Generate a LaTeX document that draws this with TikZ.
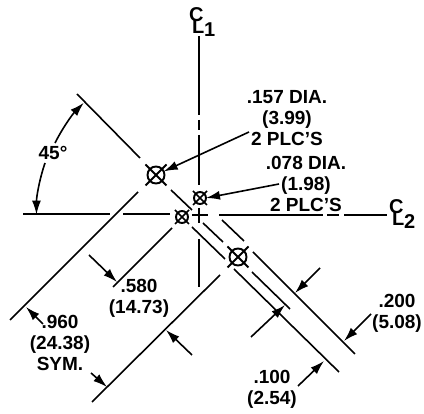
\documentclass[tikz,border=0pt]{standalone}
\usepackage{fontspec}
\setmainfont{Liberation Sans}
\usetikzlibrary{arrows.meta,shapes.misc}

\newcommand{\clsign}[1]{\rlap{C}\raisebox{-12pt}{\hspace{3pt}L\raisebox{-3pt}{#1}}}

\begin{document}
\begin{tikzpicture}[x=1pt,y=-1pt,line width=1.6pt,>={Latex[length=14pt,width=9pt]},
	every node/.style={inner sep=0pt,outer sep=0pt},
	dimtext/.style={font=\bfseries\fontsize{19}{21}\selectfont,align=center},
	cltext/.style={font=\bfseries\fontsize{20}{22}\selectfont,anchor=base west},
	bighole/.style={circle,draw,line width=1.9pt,minimum size=17pt},
	smallhole/.style={circle,draw,line width=1.9pt,minimum size=12pt},
	bigcross/.style={cross out,draw,line width=1.9pt,minimum size=21pt},
	smallcross/.style={cross out,draw,line width=1.7pt,minimum size=14pt}]
	\useasboundingbox (0,0) rectangle (424,414);

	\draw (199,36)--(199,115);
	\draw (199,120)--(199,130);
	\draw (199,135)--(199,185);
	\draw (199,208)--(199,223);
	\draw (199,239)--(199,287);
	\draw (23,214)--(110,214);
	\draw (123,214)--(170,214);
	\draw (192,215)--(208,215);
	\draw (219,215)--(323,215);
	\draw (327,215)--(339,215);
	\draw (344,215)--(387,215);

	\draw (77,94)--(140,158);
	\draw (171,190)--(192,210);
	\draw (203,223)--(223,242);
	\draw (252,272)--(290,309);
	\draw (222,220)--(244,241);
	\draw (253,252)--(355,354);
	\draw (192,227)--(225,259);
	\draw (234,269)--(339,372);
	\draw (138,192)--(10,320);
	\draw (172,228)--(113,287);
	\draw (220,275)--(92,402);

	\foreach[count=\i] \x/\y in {156/175,238/257}
	{
		\node[bighole] (bighole\i) at (\x,\y) {};
		\node[bigcross] at (\x,\y) {};
	}
	\foreach[count=\i] \x/\y in {200/198,182/217}
	{
		\node[smallhole] (smallhole\i) at (\x,\y) {};
		\node[smallcross] at (\x,\y) {};
	}

	\node[dimtext] (dia157) at (287,118) {.157 DIA.\\(3.99)\\2 PLC'S};
	\node[dimtext] (dia078) at (306,184) {.078 DIA.\\(1.98)\\2 PLC'S};
	\node[dimtext] (dim580) at (139,298) {.580\\(14.73)};
	\node[dimtext] (dim960) at (60,343) {.960\\(24.38)\\SYM.};
	\node[dimtext] (dim200) at (397,313) {.200\\(5.08)};
	\node[dimtext] (dim100) at (272,389) {.100\\(2.54)};
	\node[dimtext] (angle) at (53,153) {45°};

	\coordinate (tail157) at (249,132);
	\coordinate (tail078) at (279,184);
	\draw[->] (tail157)--(bighole1);
	\draw[->] (tail078)--(smallhole1.east);

	\foreach \a/\b/\c/\d in {89/255/117/282,192/355/166/330,43/324/26/307,91/373/107/387,320/268/295/293,371/314/344/341,251/337/285/305,298/386/324/361}
	{
		\draw[->] (\a,\b)--(\c,\d);
	}

	\draw[->] (55,143) arc[start angle=206.7,end angle=224.5,radius=160];
	\draw[->] (45,163) arc[start angle=198.8,end angle=180,radius=160];

	\node[cltext] (cl1) at (189,22) {\clsign{1}};
	\node[cltext] (cl2) at (389,214) {\clsign{2}};
\end{tikzpicture}
\end{document}
